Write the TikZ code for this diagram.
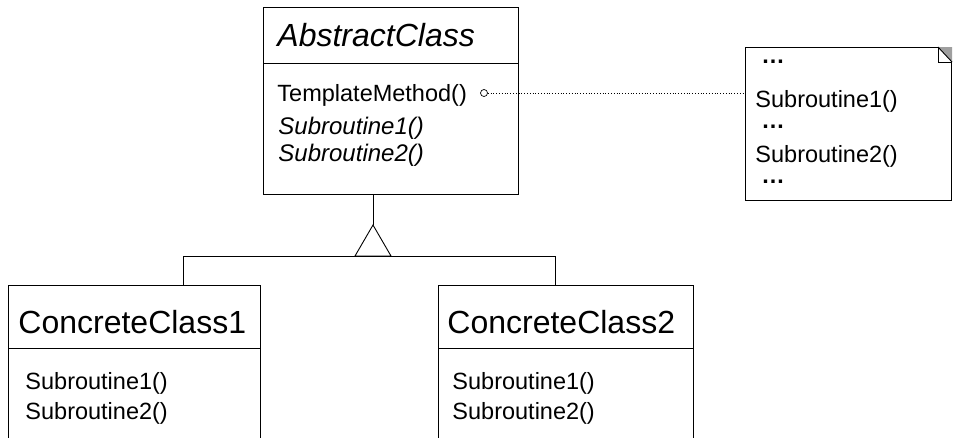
\documentclass[tikz,border=0pt]{standalone}
\usepackage{fontspec}
\setmainfont{Liberation Sans}
\usetikzlibrary{positioning}

\begin{document}
\begin{tikzpicture}[x=1pt,y=-1pt,color=black,line width=0.9pt,
  box/.style={draw,rectangle,inner sep=0pt,anchor=north west},
  clsname/.style={anchor=west,inner sep=0pt,font=\fontsize{32}{36}\selectfont},
  op/.style={anchor=west,inner sep=0pt,font=\fontsize{23.5}{26}\selectfont},
  absop/.style={op,font=\fontsize{24}{26}\selectfont\itshape},
  dots/.style={op,font=\fontsize{23.5}{26}\selectfont\bfseries}]
\useasboundingbox (0,0) rectangle (953,437);

% abstract class
\node[box,minimum width=255pt,minimum height=187pt] (abstract) at (263,7) {};
\draw ([yshift=-56pt]abstract.north west) -- ([yshift=-56pt]abstract.north east);
\node[clsname,font=\fontsize{32}{36}\selectfont\itshape] (abstractname) at (277,35) {AbstractClass};
\node[op] (tmpl) at (277,95) {TemplateMethod()};
\node[absop] (absop1) at (278,128) {Subroutine1()};
\node[absop] (absop2) at (278,155) {Subroutine2()};

% note with the body of TemplateMethod
\node[box,minimum width=206pt,minimum height=153pt] (note) at (745,47) {};
\fill[gray!75] (938,47) -- (952,47) -- (952,62) -- cycle;
\draw (938,47) -- (938,62) -- (952,62);
\draw (938,47) -- (952,62);
\node[dots] (dots1) at (761,62) {…};
\node[op] (noteop1) at (755,101) {Subroutine1()};
\node[dots] (dots2) at (761,127) {…};
\node[op] (noteop2) at (755,156) {Subroutine2()};
\node[dots] (dots3) at (761,182) {…};

\node[circle,draw,line width=0.7pt,inner sep=0pt,minimum size=7pt] (hook) at (484,93) {};
\draw[dotted,line width=0.8pt] (hook) -- (hook -| note.west);

% concrete classes
\node[box,minimum width=252pt,minimum height=190pt] (conc1) at (8,285) {};
\draw ([yshift=-63pt]conc1.north west) -- ([yshift=-63pt]conc1.north east);
\node[clsname] (conc1name) at (18,322) {ConcreteClass1};
\node[op] (c1op1) at (25,383) {Subroutine1()};
\node[op] (c1op2) at (25,413) {Subroutine2()};

\node[box,minimum width=255pt,minimum height=190pt] (conc2) at (438,285) {};
\draw ([yshift=-63pt]conc2.north west) -- ([yshift=-63pt]conc2.north east);
\node[clsname] (conc2name) at (447,322) {ConcreteClass2};
\node[op] (c2op1) at (452,383) {Subroutine1()};
\node[op] (c2op2) at (452,413) {Subroutine2()};

% inheritance
\coordinate (apex) at (373,225);
\coordinate (j1) at (183,256);
\coordinate (j2) at (555,256);
\draw (apex |- abstract.south) -- (apex);
\draw (apex) -- ++(18,31) -- ++(-36,0) -- cycle;
\draw (j1) -- (j2);
\draw (j1) -- (j1 |- conc1.north);
\draw (j2) -- (j2 |- conc2.north);
\end{tikzpicture}
\end{document}
